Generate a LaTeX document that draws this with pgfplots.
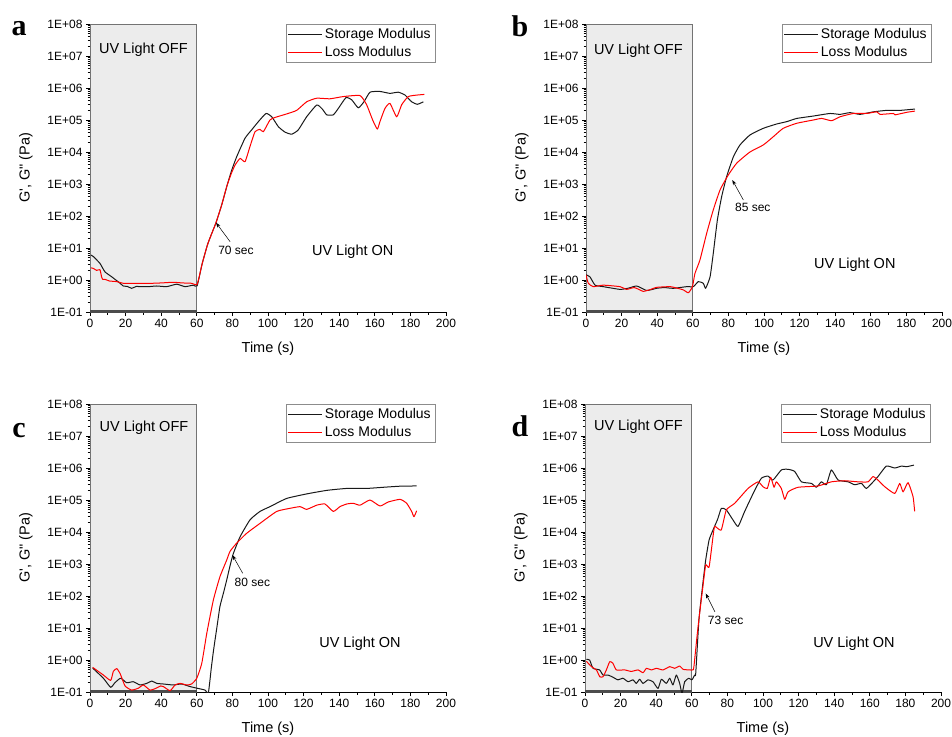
\documentclass[border=0pt]{standalone}
\usepackage{pgfplots}
\pgfplotsset{compat=1.18}
\usepackage{fontspec}
\setmainfont{Liberation Sans}
\newfontfamily\serifbf{Liberation Serif}
\usetikzlibrary{arrows.meta}

\pgfplotsset{
 panel/.style={
  width=356pt, height=288pt, scale only axis,
  xmin=0, xmax=200, ymin=0.1, ymax=1e8,
  axis x line*=bottom, axis y line*=left,
  axis line style={black, line width=0.9pt},
  tick align=outside,
  major tick length=4pt, minor tick length=2.5pt,
  tick style={black, line width=0.8pt},
  xtick={0,20,...,200}, minor x tick num=1,
  ytick={1e-1,1e0,1e1,1e2,1e3,1e4,1e5,1e6,1e7,1e8},
  yticklabels={1E-01,1E+00,1E+01,1E+02,1E+03,1E+04,1E+05,1E+06,1E+07,1E+08},
  minor ytick={0.2,0.3,0.4,0.5,0.6,0.7,0.8,0.9,2,3,4,5,6,7,8,9,20,30,40,50,60,70,80,90,200,300,400,500,600,700,800,900,2000,3000,4000,5000,6000,7000,8000,9000,2e4,3e4,4e4,5e4,6e4,7e4,8e4,9e4,2e5,3e5,4e5,5e5,6e5,7e5,8e5,9e5,2e6,3e6,4e6,5e6,6e6,7e6,8e6,9e6,2e7,3e7,4e7,5e7,6e7,7e7,8e7,9e7},
  /pgf/number format/assume math mode=true,
  ticklabel style={font=\fontsize{12}{14}\selectfont},
  xlabel={Time (s)}, ylabel={G\textquotesingle, G\textquotedbl{} (Pa)},
  label style={font=\fontsize{14.5}{16}\selectfont},
  xlabel style={at={(axis description cs:0.5,-0.128)}, anchor=center},
  ylabel style={at={(axis description cs:-0.18,0.5)}, anchor=center},
  legend style={at={(rel axis cs:0.969,1)}, anchor=north east, draw=black!45,
     font=\fontsize{14}{16}\selectfont, inner xsep=2pt, inner ysep=2pt, row sep=2.5pt},
  legend cell align=left,
  legend image code/.code={\draw[##1] (0pt,0pt) -- (34pt,0pt);},
 },
 storage/.style={black!90, line width=1pt, line join=round, smooth, tension=0.3},
 loss/.style={red, line width=1pt, line join=round, smooth, tension=0.3},
 offbox/.style={fill=gray!15, draw=black!55, line width=0.8pt, forget plot},
 offbottom/.style={black!70, line width=4pt, forget plot},
}

\begin{document}
\begin{tikzpicture}[x=1pt,y=1pt]
\path[use as bounding box] (0,0) rectangle (952,-736);

% ---------------- panel a ----------------
\begin{axis}[ymode=log, panel, at={(90pt,-312pt)}, anchor=south west]
\addplot[offbox] coordinates {(0,0.1) (0,1e8) (60,1e8) (60,0.1) (0,0.1)};
\addplot[offbottom] coordinates {(0,0.1) (60,0.1)};
\addplot[storage] coordinates {(0.5,6.0)(1.9,5.4)(5.6,3.3)(8.4,1.8)(12.2,1.26)(16.9,0.79)(18.7,0.65)(21,0.63)(23.4,0.55)(26,0.63)(28.1,0.62)(32.8,0.62)(37.5,0.65)(43.1,0.62)(48.7,0.74)(53.4,0.62)(58,0.69)(60.2,0.66)(63,3.2)(66,12.6)(68,25)(70.8,62)(74,224)(77,900)(79.5,2600)(82.4,7100)(87.1,2.7e4)(90.8,4.9e4)(94.6,8.9e4)(98.9,1.6e5)(102.1,1.26e5)(105.8,6.2e4)(109.5,4.2e4)(113.3,3.6e4)(117,4.9e4)(121.7,1.26e5)(127.4,2.95e5)(130.5,2.2e5)(133,1.45e5)(136.7,1.45e5)(139.5,2.3e5)(143.8,5.0e5)(147,4.3e5)(150.7,2.4e5)(153.9,3.7e5)(157.3,7.4e5)(162.9,7.8e5)(168.5,6.8e5)(173.2,7.4e5)(177,6.0e5)(180.7,3.7e5)(183.9,3.1e5)(187.3,3.7e5)};
\addlegendentry{Storage Modulus}
\addplot[loss] coordinates {(0.5,2.4)(1.9,2.3)(3.7,2.0)(5.6,2.1)(6.5,1.26)(7.1,1.05)(8.4,1.05)(11,0.93)(15,0.89)(18.7,0.79)(23,0.79)(28.1,0.78)(35,0.79)(40,0.81)(46.8,0.85)(52,0.81)(57,0.79)(60.2,0.74)(63,3.2)(66,12.6)(68,25)(70.8,62)(74,224)(77,900)(79.5,2200)(81.5,3900)(84.3,6300)(87.1,5000)(89.9,1.5e4)(92.7,4.3e4)(95.5,5.1e4)(97.4,4.3e4)(101.1,1.0e5)(103.9,1.2e5)(110.5,1.55e5)(116.1,2.0e5)(121.7,3.7e5)(127.4,4.8e5)(134.8,4.6e5)(142.3,5.4e5)(151.7,5.8e5)(155.4,3.0e5)(158.8,1.0e5)(161.4,5.2e4)(162.9,8.9e4)(165.7,2.3e5)(168.5,3.3e5)(172.3,1.26e5)(175.1,3.0e5)(178.8,5.4e5)(183.5,6.0e5)(187.8,6.3e5)};
\addlegendentry{Loss Modulus}
\node[font=\fontsize{14.5}{16}\selectfont] at (axis cs:30,1.6e7) {UV Light OFF};
\node[font=\fontsize{14.5}{16}\selectfont] at (axis cs:147.6,7.8) {UV Light ON};
\draw[-{Stealth[length=5pt,width=3.5pt]}, line width=0.5pt] (axis cs:78.7,15.8) -- (axis cs:70.8,61.7);
\node[font=\fontsize{12}{14}\selectfont] at (axis cs:82,8.3) {70 sec};
\end{axis}

% ---------------- panel b ----------------
\begin{axis}[ymode=log, panel, at={(586pt,-312pt)}, anchor=south west]
\addplot[offbox] coordinates {(0,0.1) (0,1e8) (60,1e8) (60,0.1) (0,0.1)};
\addplot[offbottom] coordinates {(0,0.1) (60,0.1)};
\addplot[storage] coordinates {(0,1.45)(2.2,1.26)(5.1,0.69)(9.7,0.62)(19.1,0.51)(24,0.56)(28.5,0.65)(34.1,0.47)(39.7,0.55)(44,0.58)(49.1,0.55)(56.6,0.62)(60.3,0.62)(63.1,0.89)(65.9,0.79)(67.2,0.55)(69.7,1.26)(71.5,6.8)(73.8,75)(76.2,400)(79,1700)(82.8,7100)(86.5,1.66e4)(92.1,3.4e4)(99.6,5.5e4)(107.1,7.5e4)(112.8,8.9e4)(118.4,1.12e5)(127.7,1.33e5)(137.1,1.6e5)(142.7,1.5e5)(148.3,1.7e5)(153.9,1.5e5)(161.4,1.8e5)(168.9,2.0e5)(176.4,2.0e5)(184.8,2.2e5)};
\addlegendentry{Storage Modulus}
\addplot[loss] coordinates {(0,1.45)(1.3,0.79)(4.1,0.62)(9.7,0.69)(19.1,0.62)(22.8,0.51)(27,0.58)(30.3,0.49)(32.2,0.44)(36,0.5)(39.7,0.59)(47.2,0.62)(51,0.56)(54.7,0.49)(57.5,0.40)(59.8,0.62)(61.2,1.6)(64,4.2)(67.8,29)(71.5,155)(75.3,650)(79.9,1900)(84.7,4500)(92.1,1.0e4)(99.6,1.66e4)(105.2,3.0e4)(110.8,5.5e4)(118.4,7.9e4)(127.7,1.0e5)(132.4,1.12e5)(138,9.5e4)(142.7,1.26e5)(150.2,1.6e5)(157.7,1.6e5)(163.3,1.8e5)(165.2,1.5e5)(172.7,1.6e5)(173.6,1.45e5)(180.2,1.74e5)(184.8,1.9e5)};
\addlegendentry{Loss Modulus}
\node[font=\fontsize{14.5}{16}\selectfont] at (axis cs:29.4,1.5e7) {UV Light OFF};
\node[font=\fontsize{14.5}{16}\selectfont] at (axis cs:151,2.95) {UV Light ON};
\draw[-{Stealth[length=5pt,width=3.5pt]}, line width=0.5pt] (axis cs:88.4,316) -- (axis cs:82.2,1334);
\node[font=\fontsize{12}{14}\selectfont] at (axis cs:93.7,186) {85 sec};
\end{axis}

% ---------------- panel c ----------------
\begin{axis}[ymode=log, panel, at={(90pt,-692pt)}, anchor=south west]
\addplot[offbox] coordinates {(0,0.1) (0,1e8) (60,1e8) (60,0.1) (0,0.1)};
\addplot[offbottom] coordinates {(0,0.1) (60,0.1)};
\addplot[storage] coordinates {(1.5,0.56)(7.5,0.27)(11.6,0.14)(14,0.195)(17.2,0.27)(20.6,0.195)(24.3,0.21)(28.1,0.166)(31.8,0.186)(34.7,0.22)(37.5,0.186)(41.2,0.178)(46.8,0.166)(51.5,0.178)(56.2,0.148)(60,0.132)(64.6,0.115)(66.5,0.095)(68.2,0.6)(69.5,2.2)(71.5,12.6)(73,47)(75,126)(76.8,316)(78.7,890)(80.5,2100)(84.3,7100)(89.9,2.4e4)(95.5,4.4e4)(101.1,6.2e4)(110.5,1.12e5)(121.7,1.55e5)(133,2.0e5)(144.2,2.3e5)(155.4,2.3e5)(164.8,2.5e5)(174.2,2.7e5)(183.5,2.75e5)};
\addlegendentry{Storage Modulus}
\addplot[loss] coordinates {(1.5,0.59)(7.5,0.34)(11.6,0.23)(13.1,0.44)(15,0.54)(16.9,0.38)(19.7,0.155)(23.4,0.115)(27.2,0.132)(30,0.166)(33.7,0.115)(37,0.13)(39.7,0.155)(41.2,0.148)(45,0.11)(47.8,0.166)(50.6,0.186)(54.3,0.166)(57.1,0.178)(60,0.27)(62.8,0.79)(65.6,6.8)(69.3,75)(73,400)(76.8,1330)(78.7,2500)(82.4,4500)(88,9100)(95.5,1.86e4)(104.9,4.4e4)(112.4,5.5e4)(118,6.2e4)(121.7,5.1e4)(127.4,6.9e4)(132,7.5e4)(136.7,4.4e4)(140.4,6.2e4)(144.2,7.5e4)(147.9,7.9e4)(151.7,6.9e4)(157.3,1.0e5)(162.9,6.5e4)(167.6,8.7e4)(174.2,1.05e5)(177.9,7.9e4)(180.7,4.4e4)(182,3.0e4)(183.5,4.6e4)};
\addlegendentry{Loss Modulus}
\node[font=\fontsize{14.5}{16}\selectfont] at (axis cs:30.3,1.86e7) {UV Light OFF};
\node[font=\fontsize{14.5}{16}\selectfont] at (axis cs:151.7,3.16) {UV Light ON};
\draw[-{Stealth[length=5pt,width=3.5pt]}, line width=0.5pt] (axis cs:85.8,513) -- (axis cs:80,1905);
\node[font=\fontsize{12}{14}\selectfont] at (axis cs:91.2,269) {80 sec};
\end{axis}

% ---------------- panel d ----------------
\begin{axis}[ymode=log, panel, at={(585pt,-692pt)}, anchor=south west]
\addplot[offbox] coordinates {(0,0.1) (0,1e8) (60,1e8) (60,0.1) (0,0.1)};
\addplot[offbottom] coordinates {(0,0.1) (60,0.1)};
\addplot[storage] coordinates {(0.8,1.05)(2.6,1.0)(4.5,0.55)(8.2,0.49)(10.1,0.34)(12.9,0.34)(15.7,0.29)(18.5,0.24)(21.3,0.27)(24.2,0.21)(27,0.24)(28.8,0.186)(30.7,0.25)(32.6,0.186)(35.4,0.24)(38.2,0.21)(41,0.129)(42.9,0.25)(45.7,0.186)(47.6,0.27)(49.4,0.166)(51.3,0.34)(53.2,0.186)(54.5,0.09)(56,0.21)(58.3,0.27)(60.1,0.24)(61.6,0.34)(62.2,0.38)(64,17.8)(66,195)(67.8,1330)(69.7,5600)(71.9,1.15e4)(74.5,2.5e4)(76.6,5.5e4)(79.4,4.9e4)(83.1,2.4e4)(86,1.5e4)(89.7,4.4e4)(95.3,2.0e5)(99.1,4.8e5)(102.8,5.6e5)(105.6,4.2e5)(110.3,8.7e5)(114.1,9.1e5)(117.8,7.8e5)(121.6,3.7e5)(127.2,3.3e5)(130,2.5e5)(132.8,3.7e5)(135.6,3.0e5)(138.4,8.7e5)(142.2,4.2e5)(147.8,3.7e5)(151.5,3.0e5)(155.3,3.3e5)(158.1,2.3e5)(162.8,4.2e5)(164.6,5.4e5)(169.3,1.15e6)(174,1.0e6)(177.8,1.15e6)(180.6,1.1e6)(184.8,1.23e6)};
\addlegendentry{Storage Modulus}
\addplot[loss] coordinates {(0.8,0.91)(3.6,0.62)(6.4,0.49)(8.3,0.30)(10.1,0.30)(12,0.49)(13.9,0.89)(15.7,0.79)(17.6,0.49)(22.3,0.49)(26,0.44)(29.8,0.49)(32.6,0.40)(34.5,0.55)(37.3,0.49)(40.1,0.55)(43.8,0.49)(47.6,0.62)(50.4,0.55)(53.2,0.65)(55.1,0.51)(58.8,0.49)(60.7,0.49)(61.2,0.63)(63.1,6.8)(64.4,29)(66,155)(67.8,930)(69.7,800)(71.9,7100)(72.9,1.5e4)(76.5,1.15e4)(79.4,4.9e4)(84.1,7.9e4)(91.6,2.3e5)(97.2,3.7e5)(100,2.6e5)(102.4,2.3e5)(104.3,5.1e5)(106.2,2.5e5)(107.5,3.7e5)(110.3,2.3e5)(112.2,1.05e5)(114.1,1.8e5)(119.7,2.5e5)(130.9,2.75e5)(138.4,3.7e5)(145.9,4.0e5)(153.4,3.7e5)(159,3.7e5)(161.8,5.4e5)(164.6,4.2e5)(168.4,2.6e5)(174,1.6e5)(176.8,3.3e5)(178.7,1.8e5)(181.5,3.5e5)(184.3,1.26e5)(185.2,4.4e4)};
\addlegendentry{Loss Modulus}
\node[font=\fontsize{14.5}{16}\selectfont] at (axis cs:30,1.95e7) {UV Light OFF};
\node[font=\fontsize{14.5}{16}\selectfont] at (axis cs:151.1,3.16) {UV Light ON};
\draw[-{Stealth[length=5pt,width=3.5pt]}, line width=0.5pt] (axis cs:73,32) -- (axis cs:67.8,120);
\node[font=\fontsize{12}{14}\selectfont] at (axis cs:79,17) {73 sec};
\end{axis}

% panel letters
\node[font=\fontsize{30}{30}\selectfont\serifbf\bfseries, anchor=base] at (19,-35.7) {a};
\node[font=\fontsize{30}{30}\selectfont\serifbf\bfseries, anchor=base] at (520,-36.7) {b};
\node[font=\fontsize{30}{30}\selectfont\serifbf\bfseries, anchor=base] at (19,-437) {c};
\node[font=\fontsize{30}{30}\selectfont\serifbf\bfseries, anchor=base] at (520,-436.7) {d};
\end{tikzpicture}
\end{document}
